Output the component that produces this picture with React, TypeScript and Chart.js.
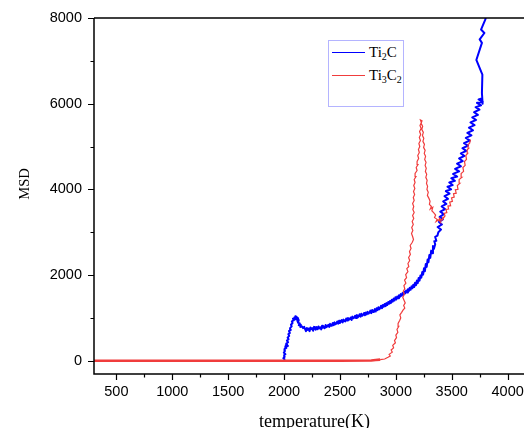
import React, { useEffect, useRef } from "react";
import { Chart, registerables } from "chart.js";

Chart.register(...registerables);

// ---- data ----
const xTicks = [500, 1000, 1500, 2000, 2500, 3000, 3500, 4000];
const xMinorTicks = [750, 1250, 1750, 2250, 2750, 3250, 3750];
const yTicks = [0, 2000, 4000, 6000, 8000];
const yMinorTicks = [1000, 3000, 5000, 7000];

const seriesNames = ["Ti2C", "Ti3C2"];

// Ti2C: [temperature, MSD]
const ti2cPoints: [number, number][] = [
  [2000, 0], [2003, 40], [1994, 60], [2006, 90], [2001, 130], [2012, 150], [1998, 190], [2008, 230], [2004, 270],
  [2020, 300], [2010, 320], [2035, 345], [2015, 360], [2028, 370], [2020, 400], [2036, 430], [2026, 470], [2040, 500],
  [2032, 540], [2046, 580], [2038, 620], [2052, 650], [2044, 690], [2060, 720], [2054, 760], [2068, 800], [2062, 840],
  [2076, 880], [2070, 920], [2086, 940], [2080, 980], [2096, 960], [2092, 1010], [2108, 990], [2102, 1040], [2118, 1010],
  [2112, 970], [2126, 990], [2118, 930], [2132, 950], [2124, 890], [2140, 870], [2132, 830], [2150, 840], [2146, 790],
  [2162, 800], [2170, 760], [2180, 790], [2188, 740],
  [2196, 690], [2204, 765], [2212, 720], [2220, 750], [2228, 690], [2236, 775], [2244, 735], [2252, 760], [2260, 700],
  [2268, 790], [2276, 745], [2284, 725], [2292, 785], [2300, 735], [2308, 800], [2316, 755], [2324, 780], [2332, 730],
  [2340, 815], [2348, 770], [2356, 795], [2364, 760], [2372, 835], [2380, 785], [2388, 810], [2396, 840], [2404, 790],
  [2412, 860], [2420, 815], [2428, 835], [2436, 880], [2444, 830], [2452, 895], [2460, 850], [2468, 870], [2476, 915],
  [2484, 865], [2492, 935], [2500, 880], [2508, 910], [2516, 950], [2524, 895], [2532, 960], [2540, 930], [2548, 915],
  [2556, 985], [2564, 940], [2572, 1000], [2580, 955], [2588, 975], [2596, 1010], [2604, 950], [2612, 1030], [2620, 990],
  [2628, 1005], [2636, 1050], [2644, 995], [2652, 1065], [2660, 1015], [2668, 1040], [2676, 1085], [2684, 1030],
  [2692, 1095], [2700, 1050], [2708, 1070], [2716, 1115], [2724, 1060], [2732, 1125], [2740, 1080], [2748, 1140],
  [2756, 1100], [2764, 1125], [2772, 1170], [2780, 1110], [2788, 1185], [2796, 1140], [2804, 1160], [2812, 1205],
  [2820, 1150], [2828, 1225], [2836, 1180], [2844, 1250], [2852, 1200], [2860, 1230], [2868, 1285], [2876, 1225],
  [2884, 1300], [2892, 1260], [2900, 1325], [2908, 1275], [2916, 1345], [2924, 1300], [2932, 1370], [2940, 1330],
  [2948, 1395], [2956, 1345], [2964, 1420], [2972, 1380], [2980, 1450], [2988, 1405], [2996, 1480], [3004, 1430],
  [3012, 1500], [3020, 1460], [3028, 1530], [3036, 1490], [3044, 1555], [3052, 1515], [3060, 1580], [3068, 1540],
  [3076, 1610], [3084, 1570], [3092, 1640], [3100, 1595], [3108, 1670], [3116, 1625], [3124, 1700], [3132, 1655],
  [3140, 1735], [3148, 1690], [3156, 1775], [3164, 1720], [3172, 1820], [3180, 1760], [3188, 1870], [3196, 1810],
  [3204, 1930], [3212, 1870], [3220, 1990], [3228, 1940], [3236, 2070], [3244, 2010], [3252, 2160], [3260, 2090],
  [3268, 2260], [3276, 2190], [3284, 2360], [3292, 2300], [3300, 2470], [3308, 2400], [3316, 2570], [3324, 2510],
  [3332, 2680], [3340, 2610], [3352, 2720], [3344, 2790], [3362, 2800], [3352, 2890], [3372, 2920],
  [3380, 3000], [3404, 3060], [3374, 3120], [3412, 3180], [3386, 3240], [3420, 3300], [3392, 3360], [3430, 3420],
  [3398, 3480], [3440, 3540], [3410, 3600], [3452, 3660], [3424, 3720], [3466, 3780], [3436, 3840], [3480, 3900],
  [3448, 3960], [3494, 4000], [3462, 4060], [3508, 4100], [3478, 4160], [3528, 4200], [3496, 4260], [3548, 4300],
  [3512, 4360], [3566, 4420], [3530, 4480], [3582, 4540], [3548, 4600], [3598, 4660], [3566, 4720], [3614, 4780],
  [3582, 4840], [3630, 4900], [3596, 4960], [3646, 5020], [3610, 5080], [3662, 5140], [3626, 5200], [3676, 5260],
  [3640, 5320], [3690, 5380], [3654, 5440], [3704, 5500], [3668, 5560], [3718, 5620], [3684, 5680], [3734, 5740],
  [3700, 5800], [3748, 5860], [3714, 5920], [3762, 5960], [3726, 6020], [3778, 6040], [3740, 6100], [3768, 6120],
  [3776, 6000], [3770, 6250], [3774, 6680], [3720, 7020], [3770, 7420], [3750, 7500], [3792, 7650], [3762, 7730],
  [3780, 7840], [3800, 7960], [3815, 8150],
];

// Ti3C2: [temperature, MSD]
const ti3c2Points: [number, number][] = [
  [300, 0], [1000, 0], [1800, 0], [2500, 0], [2780, 5], [2820, 15], [2860, 25], [2900, 40], [2930, 80], [2950, 110],
  [2940, 150], [2968, 200], [2958, 250], [2980, 300], [2972, 360], [2996, 420], [2988, 470], [3006, 540], [3000, 600],
  [3018, 660], [3010, 730], [3026, 800], [3020, 870], [3034, 940], [3044, 1000], [3036, 1070], [3052, 1130],
  [3064, 1180], [3080, 1230], [3070, 1290], [3084, 1350], [3072, 1420], [3062, 1480], [3076, 1550], [3066, 1620],
  [3080, 1680], [3072, 1750], [3090, 1810], [3078, 1880], [3096, 1940], [3088, 2010], [3108, 2080], [3098, 2150],
  [3116, 2200], [3108, 2270], [3124, 2340], [3114, 2410], [3130, 2480], [3122, 2550], [3136, 2620], [3128, 2690],
  [3146, 2760], [3158, 2830], [3150, 2900], [3140, 2970], [3152, 3040], [3142, 3110], [3156, 3180], [3146, 3250],
  [3160, 3320], [3150, 3390], [3164, 3460], [3152, 3530], [3160, 3600], [3150, 3670], [3164, 3740], [3156, 3810],
  [3168, 3880], [3158, 3950], [3170, 4020], [3160, 4090], [3172, 4160], [3164, 4230], [3180, 4300], [3172, 4370],
  [3190, 4440], [3182, 4510], [3198, 4580], [3190, 4650], [3204, 4720], [3196, 4790], [3210, 4860], [3202, 4930],
  [3214, 5000], [3206, 5070], [3220, 5140], [3210, 5210], [3222, 5280], [3212, 5350], [3226, 5420], [3216, 5490],
  [3228, 5560], [3220, 5620], [3234, 5600], [3226, 5540], [3240, 5470], [3232, 5400], [3246, 5330], [3238, 5260],
  [3250, 5190], [3242, 5120], [3256, 5050], [3248, 4980], [3262, 4910], [3254, 4840], [3266, 4770], [3258, 4700],
  [3270, 4630], [3262, 4560], [3272, 4490], [3264, 4420], [3276, 4350], [3268, 4280], [3280, 4210], [3274, 4140],
  [3284, 4070], [3278, 4000], [3290, 3930], [3282, 3860], [3296, 3790], [3306, 3720], [3300, 3650], [3318, 3600],
  [3308, 3540], [3330, 3580], [3322, 3500], [3340, 3450], [3356, 3400], [3346, 3340], [3370, 3300], [3360, 3250],
  [3384, 3290], [3398, 3240], [3390, 3320], [3412, 3280], [3424, 3360], [3418, 3300], [3440, 3380], [3432, 3440],
  [3456, 3460], [3448, 3530], [3472, 3540], [3466, 3610], [3490, 3620], [3482, 3700], [3506, 3720], [3498, 3800],
  [3522, 3820], [3516, 3900], [3540, 3910], [3532, 3990], [3556, 4000], [3550, 4090], [3572, 4140], [3566, 4230],
  [3590, 4280], [3584, 4370], [3606, 4420], [3600, 4510], [3620, 4560], [3614, 4650], [3632, 4700], [3626, 4790],
  [3642, 4840], [3638, 4920], [3652, 4960], [3646, 5040], [3660, 5080], [3668, 5160],
];

const BLUE = "#0000ff";
const RED = "#f03c3c";

const axesPlugin = {
  id: "originAxes",
  afterDatasetsDraw(chart: any) {
    const { ctx, chartArea, scales } = chart;
    const x = scales.x;
    const y = scales.y;
    ctx.save();
    ctx.strokeStyle = "#000";
    ctx.lineWidth = 1.5;
    ctx.beginPath();
    ctx.moveTo(chartArea.left, chartArea.top);
    ctx.lineTo(chartArea.left, chartArea.bottom);
    ctx.lineTo(chartArea.right, chartArea.bottom);
    ctx.moveTo(chartArea.left, chartArea.top);
    ctx.lineTo(chartArea.right, chartArea.top);
    ctx.stroke();
    ctx.lineWidth = 1.2;
    ctx.beginPath();
    for (const v of xTicks) {
      const px = Math.round(x.getPixelForValue(v)) + 0.5;
      ctx.moveTo(px, chartArea.bottom);
      ctx.lineTo(px, chartArea.bottom + 6);
    }
    for (const v of xMinorTicks) {
      const px = Math.round(x.getPixelForValue(v)) + 0.5;
      ctx.moveTo(px, chartArea.bottom);
      ctx.lineTo(px, chartArea.bottom + 3.5);
    }
    for (const v of yTicks) {
      const py = Math.round(y.getPixelForValue(v)) + 0.5;
      ctx.moveTo(chartArea.left, py);
      ctx.lineTo(chartArea.left - 6, py);
    }
    for (const v of yMinorTicks) {
      const py = Math.round(y.getPixelForValue(v)) + 0.5;
      ctx.moveTo(chartArea.left, py);
      ctx.lineTo(chartArea.left - 3.5, py);
    }
    ctx.stroke();
    // axis titles
    ctx.fillStyle = "#000";
    ctx.font = '18px "Liberation Serif"';
    ctx.textAlign = "center";
    ctx.textBaseline = "alphabetic";
    ctx.fillText("temperature(K)", 314.5, 427);
    ctx.translate(29, 184);
    ctx.rotate(-Math.PI / 2);
    ctx.font = '14.5px "Liberation Serif"';
    ctx.fillText("MSD", 0, 0);
    ctx.restore();
  },
};

export default function App() {
  const ref = useRef<HTMLCanvasElement>(null);
  useEffect(() => {
    if (!ref.current) return;
    const chart = new Chart(ref.current, {
      type: "scatter",
      data: {
        datasets: [
          {
            label: seriesNames[0],
            data: ti2cPoints.map(([t, m]) => ({ x: t, y: m })),
            showLine: true,
            borderColor: BLUE,
            backgroundColor: BLUE,
            borderWidth: 2,
            borderJoinStyle: "round",
            pointRadius: 0,
            order: 2,
          },
          {
            label: seriesNames[1],
            data: ti3c2Points.map(([t, m]) => ({ x: t, y: m })),
            showLine: true,
            borderColor: RED,
            backgroundColor: RED,
            borderWidth: 1.2,
            pointRadius: 0,
            order: 1,
            segment: {
              borderWidth: (c: any) => (c.p0.parsed.y < 40 && c.p1.parsed.y < 40 ? 2.6 : 1.2),
            },
          },
        ],
      },
      options: {
        animation: false,
        responsive: false,
        maintainAspectRatio: false,
        layout: { padding: { left: 0, top: 18, right: 10, bottom: 0 } },
        plugins: { legend: { display: false }, tooltip: { enabled: false } },
        scales: {
          x: {
            type: "linear",
            min: 300,
            max: 4200,
            grid: { display: false, drawTicks: false },
            border: { display: false },
            afterBuildTicks: (s: any) => {
              s.ticks = xTicks.map((v) => ({ value: v }));
            },
            afterFit: (s: any) => {
              s.height = 54;
              s.paddingLeft = 0;
              s.paddingRight = 0;
            },
            ticks: {
              padding: 9,
              color: "#000",
              font: { family: "Liberation Sans", size: 14.5 },
              maxRotation: 0,
              callback: (v: any) => String(v),
            },
          },
          y: {
            type: "linear",
            min: -310,
            max: 8000,
            grid: { display: false, drawTicks: false },
            border: { display: false },
            afterBuildTicks: (s: any) => {
              s.ticks = yTicks.map((v) => ({ value: v }));
            },
            afterFit: (s: any) => {
              s.width = 94;
              s.paddingTop = 0;
              s.paddingBottom = 0;
            },
            ticks: {
              padding: 12,
              color: "#000",
              font: { family: "Liberation Sans", size: 14.5 },
              callback: (v: any) => String(v),
            },
          },
        },
      },
      plugins: [axesPlugin],
    });
    return () => chart.destroy();
  }, []);

  const lineStyle = (color: string, top: number): React.CSSProperties => ({
    position: "absolute",
    left: 3,
    top,
    width: 33,
    height: 1.5,
    background: color,
  });
  const textStyle = (top: number): React.CSSProperties => ({
    position: "absolute",
    left: 40,
    top,
    fontFamily: '"Liberation Serif"',
    fontSize: 15,
    lineHeight: "15px",
    whiteSpace: "nowrap",
    color: "#000",
  });
  const subStyle: React.CSSProperties = { fontSize: 10, position: "relative", top: 3 };

  return (
    <div
      style={{
        position: "fixed",
        left: 0,
        top: 0,
        width: 524,
        height: 428,
        overflow: "hidden",
        background: "#fff",
      }}
    >
      <canvas ref={ref} width={540} height={428} style={{ display: "block" }} />
      <div
        style={{
          position: "absolute",
          left: 328,
          top: 40,
          width: 74,
          height: 65,
          border: "1px solid #b4b4ff",
          background: "#fff",
        }}
      >
        <div style={lineStyle(BLUE, 10.5)} />
        <div style={textStyle(4)}>
          Ti<span style={subStyle}>2</span>C
        </div>
        <div style={lineStyle(RED, 33.5)} />
        <div style={textStyle(27)}>
          Ti<span style={subStyle}>3</span>C<span style={subStyle}>2</span>
        </div>
      </div>
    </div>
  );
}
